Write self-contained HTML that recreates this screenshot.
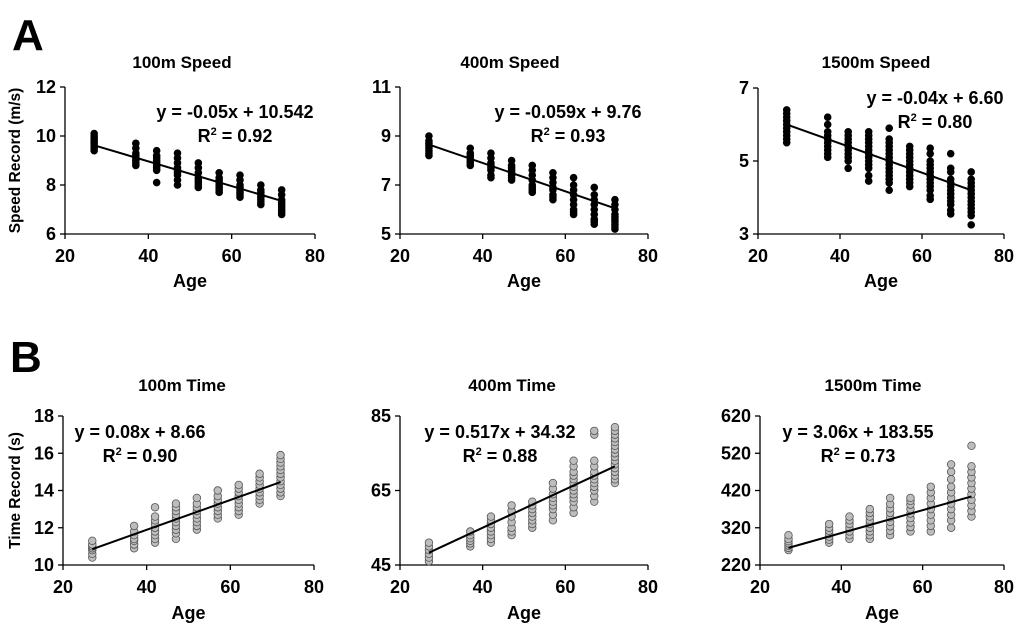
<!DOCTYPE html>
<html><head><meta charset="utf-8"><style>
html,body{margin:0;padding:0;background:#fff;}
svg{display:block;font-family:"Liberation Sans",Arial,sans-serif;font-weight:bold;}
</style></head><body>
<svg id="fig" width="1020" height="631" viewBox="0 0 1020 631">
<text x="12" y="50" font-size="44">A</text>
<text x="10" y="372" font-size="44">B</text>
</svg>
<script>
const ages=[27,37,42,47,52,57,62,67,72];
// 100m speed (m/s)
const a1Vals=[[9.4,9.5,9.6,9.7,9.8,9.9,10.0,10.1],[8.8,8.9,9.0,9.1,9.2,9.3,9.5,9.7],[8.1,8.6,8.7,8.8,8.9,9.0,9.1,9.2,9.4],[8.0,8.2,8.4,8.5,8.6,8.7,8.9,9.1,9.3],[7.9,8.0,8.1,8.2,8.3,8.5,8.7,8.9],[7.7,7.8,7.9,8.0,8.1,8.2,8.3,8.5],[7.5,7.6,7.7,7.8,7.9,8.0,8.2,8.4],[7.2,7.3,7.4,7.5,7.6,7.7,7.8,8.0],[6.8,6.9,7.0,7.1,7.2,7.3,7.4,7.6,7.8]];
// 400m speed
const a2Vals=[[8.2,8.3,8.4,8.5,8.6,8.7,8.8,9.0],[7.8,7.9,8.0,8.1,8.2,8.3,8.5],[7.3,7.4,7.6,7.7,7.8,7.9,8.1,8.3],[7.2,7.3,7.4,7.5,7.6,7.7,7.8,8.0],[6.7,6.8,6.9,7.0,7.2,7.4,7.6,7.8],[6.4,6.5,6.6,6.8,6.9,7.1,7.3,7.5],[5.8,5.9,6.0,6.2,6.4,6.6,6.8,7.0,7.3],[5.4,5.5,5.6,5.8,6.0,6.2,6.4,6.6,6.9],[5.2,5.3,5.4,5.5,5.6,5.7,5.8,6.0,6.2,6.4]];
// 1500m speed
const a3Vals=[[5.5,5.6,5.7,5.8,5.9,6.0,6.1,6.2,6.3,6.4],[5.1,5.2,5.3,5.4,5.5,5.6,5.7,5.8,6.0,6.2],[4.8,5.0,5.1,5.2,5.3,5.4,5.5,5.6,5.7,5.8],[4.45,4.6,4.8,4.9,5.0,5.1,5.2,5.3,5.4,5.5,5.6,5.7,5.8],[4.2,4.4,4.5,4.6,4.7,4.8,4.9,5.0,5.1,5.2,5.3,5.4,5.5,5.6,5.9],[4.3,4.4,4.5,4.6,4.7,4.8,4.9,5.0,5.1,5.2,5.3,5.4],[3.95,4.05,4.2,4.3,4.4,4.5,4.6,4.7,4.8,4.9,5.0,5.2,5.35],[3.55,3.65,3.8,3.9,4.0,4.1,4.2,4.3,4.4,4.5,4.7,4.8,5.2],[3.25,3.5,3.6,3.7,3.8,3.9,4.0,4.1,4.2,4.3,4.4,4.5,4.7]];
// 100m time
const b1Vals=[[10.4,10.6,10.8,10.9,11.0,11.1,11.3],[10.9,11.1,11.3,11.4,11.6,11.8,12.1],[11.2,11.4,11.6,11.8,12.0,12.2,12.4,12.6,13.1],[11.4,11.7,11.9,12.1,12.3,12.5,12.7,12.9,13.1,13.3],[11.9,12.1,12.3,12.5,12.7,12.9,13.1,13.3,13.6],[12.5,12.7,12.9,13.1,13.3,13.5,13.7,14.0],[12.7,12.9,13.1,13.3,13.5,13.7,13.9,14.1,14.3],[13.3,13.5,13.7,13.9,14.1,14.3,14.5,14.7,14.9],[13.7,13.9,14.1,14.3,14.5,14.7,14.9,15.1,15.3,15.5,15.7,15.9]];
// 400m time
const b2Vals=[[46,47,48,49,50,51],[50,50.8,51.5,52.2,53,54],[51,52,53,54,55,56,57,58],[53,54,55,56.5,58,59.5,61],[55,56,57,58,59,60,61,62],[57,58.5,60,61,62,63,64,65.5,67],[59,60.5,62,63,64,65,66,67,68,69,70,71.5,73],[62,63.5,65,66,67,68,69,70,71.5,73,80,81],[67,68,69,70,71,72,73,74,75,76,77,78,79,80,81,82]];
// 1500m time
const b3Vals=[[260,266,272,278,284,290,300],[280,288,296,304,312,320,330],[290,300,310,320,330,340,350],[290,300,310,320,330,340,350,360,370],[300,312,324,336,348,360,372,384,400],[310,322,334,346,358,370,382,392,400],[310,325,340,355,370,385,400,415,430],[320,340,355,370,385,400,415,430,450,470,490],[350,365,380,395,410,425,440,455,470,485,540]];
const a1Line=[9.62,7.35], a2Line=[8.65,6.05], a3Line=[6.0,4.2];
const b1Line=[10.85,14.45], b2Line=[48.3,71.5], b3Line=[266,404];
const a1Ticks=[6,8,10,12], a2Ticks=[5,7,9,11], a3Ticks=[3,5,7];
const b1Ticks=[10,12,14,16,18], b2Ticks=[45,65,85], b3Ticks=[220,320,420,520,620];
const xTicks=[20,40,60,80];

const NS='http://www.w3.org/2000/svg';
const svg=document.getElementById('fig');
function mk(tag,attrs,parent){const e=document.createElementNS(NS,tag);for(const k in attrs)e.setAttribute(k,attrs[k]);(parent||svg).appendChild(e);return e;}

const panels=[
 {id:'a1',x0:65,x1:315,yT:87,yB:234,vals:a1Vals,line:a1Line,ticks:a1Ticks,title:'100m Speed',tx:182,ty:68,eq:'y = -0.05x + 10.542',r2:'0.92',ex:235,ey:118,ylab:'Speed Record (m/s)',ageY:287,filled:true},
 {id:'a2',x0:400,x1:648,yT:87,yB:234,vals:a2Vals,line:a2Line,ticks:a2Ticks,title:'400m Speed',tx:510,ty:68,eq:'y = -0.059x + 9.76',r2:'0.93',ex:568,ey:118,ageY:287,filled:true},
 {id:'a3',x0:758,x1:1004,yT:88,yB:234,vals:a3Vals,line:a3Line,ticks:a3Ticks,title:'1500m Speed',tx:876,ty:68,eq:'y = -0.04x + 6.60',r2:'0.80',ex:935,ey:104,ageY:287,filled:true},
 {id:'b1',x0:63,x1:314,yT:416,yB:565,vals:b1Vals,line:b1Line,ticks:b1Ticks,title:'100m Time',tx:182,ty:391,eq:'y = 0.08x + 8.66',r2:'0.90',ex:140,ey:438,ylab:'Time Record (s)',ageY:619,filled:false},
 {id:'b2',x0:400,x1:648,yT:416,yB:565,vals:b2Vals,line:b2Line,ticks:b2Ticks,title:'400m Time',tx:512,ty:391,eq:'y = 0.517x + 34.32',r2:'0.88',ex:500,ey:438,ageY:619,filled:false},
 {id:'b3',x0:760,x1:1004,yT:416,yB:565,vals:b3Vals,line:b3Line,ticks:b3Ticks,title:'1500m Time',tx:873,ty:391,eq:'y = 3.06x + 183.55',r2:'0.73',ex:858,ey:438,ageY:619,filled:false}
];

panels.forEach(p=>{
 const g=mk('g',{});
 
 
 const tmin=p.ticks[0], tmax=p.ticks[p.ticks.length-1];
 const sx=v=>p.x0+(v-20)/(80-20)*(p.x1-p.x0);
 const sy=v=>p.yB-(v-tmin)/(tmax-tmin)*(p.yB-p.yT);
 const ax=mk('path',{d:`M${p.x0} ${p.yT}V${p.yB}H${p.x1}`,stroke:'#000','stroke-width':1.3,fill:'none'},g);
 
 
 p.ticks.forEach(t=>{
  mk('line',{x1:p.x0-5,x2:p.x0,y1:sy(t),y2:sy(t),stroke:'#000','stroke-width':1.3},g);
  const tl=mk('text',{x:p.x0-9,y:sy(t)+6,'font-size':18,'text-anchor':'end'},g);tl.textContent=t;
  
  
 });
 xTicks.forEach(t=>{
  mk('line',{x1:sx(t),x2:sx(t),y1:p.yB,y2:p.yB+5,stroke:'#000','stroke-width':1.3},g);
  const tl=mk('text',{x:sx(t),y:p.yB+28,'font-size':18,'text-anchor':'middle'},g);tl.textContent=t;
  
  
 });
 p.vals.forEach((col,i)=>col.forEach(v=>{
  const c=mk('circle',{cx:sx(ages[i]),cy:sy(v),r:3.8,fill:p.filled?'#000':'#bdbdbd',stroke:p.filled?'none':'#555','stroke-width':0.8},g);
  
  
 }));
 const ln=mk('line',{x1:sx(ages[0]),y1:sy(p.line[0]),x2:sx(ages[ages.length-1]),y2:sy(p.line[1]),stroke:'#000','stroke-width':2},g);
 
 
 const ti=mk('text',{x:p.tx,y:p.ty,'font-size':17,'text-anchor':'middle'},g);ti.textContent=p.title;
 
 
 const eq=mk('text',{x:p.ex,y:p.ey,'font-size':18,'text-anchor':'middle'},g);eq.textContent=p.eq;
 
 
 const r2=mk('text',{x:p.ex,y:p.ey+24,'font-size':18,'text-anchor':'middle'},g);
 r2.innerHTML='R<tspan dy="-7" font-size="11">2</tspan><tspan dy="7"> = '+p.r2+'</tspan>';
 
 
 const ag=mk('text',{x:(p.x0+p.x1)/2,y:p.ageY,'font-size':18,'text-anchor':'middle'},g);ag.textContent='Age';
 
 
 if(p.ylab){
  const cy=(p.yT+p.yB)/2;
  const yl=mk('text',{x:20,y:cy,'font-size':15.5,'text-anchor':'middle',transform:`rotate(-90 20 ${cy})`},g);yl.textContent=p.ylab;
  
  
 }
});
</script>
</body></html>
